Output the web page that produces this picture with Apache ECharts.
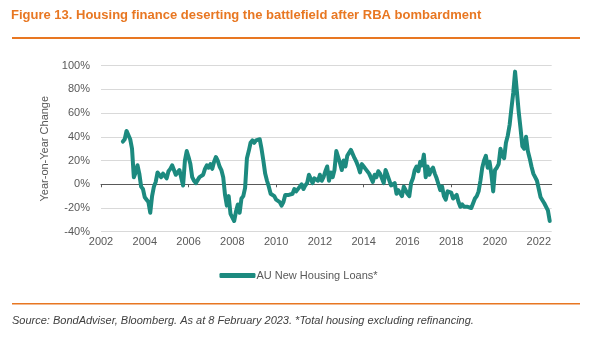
<!DOCTYPE html>
<html>
<head>
<meta charset="utf-8">
<script src="https://cdn.jsdelivr.net/npm/echarts@6/dist/echarts.min.js"></script>
<style>
html,body{margin:0;padding:0;background:#fff;}
#chart{width:597px;height:339px;}
</style>
</head>
<body>
<div id="chart"></div>
<script>
// Monthly year-on-year change (%), starting January 2003
const startYear = 2003;
const seriesName = 'AU New Housing Loans*';
const loans = [
  36, 38, 45, 44, 38, 30, 6, 10, 16, 9, -2, -4,
  -11, -13, -15, -24, -10, -2, 2, 10, 9, 6, 9, 8,
  5, 11, 13, 16, 15, 8, 7, 12, 11, -1, 20, 28,
  23, 17, 6, 3, 1, 1, 6, 7, 8, 13, 16, 14,
  17, 13, 19, 23, 20, 15, 12, 6, -9, -18, -10, -25,
  -25, -31, -23, -17, -24, -12, -10, -3, 22, 28, 35, 37,
  35, 37, 37, 38, 30, 20, 9, 3, -2, -8, -9, -10,
  -13, -14, -15, -18, -15, -9, -9, -9, -10, -8, -4, -6,
  -6, -2, 0, -4, -1, 1, 8, 7, 1, 5, 4, 3,
  8, 3, 6, 11, 15, 3, 10, 6, 12, 28, 28, 18,
  12, 20, 15, 24, 23, 29, 28, 22, 19, 15, 10, 17,
  15, 13, 14, 9, 10, 2, 8, 6, 11, 9, 9, 1,
  12, 8, 8, -1, -1, 1, -8, -5, -4, -10, -2, -3,
  -8, -10, 1, 5, 12, 15, 11, 19, 16, 25, 6, 15,
  8, 12, 14, 9, 5, 0, -5, -2, -10, -13, -6, -7,
  -7, -12, -13, -9, -15, -19, -17, -19, -19, -19, -19, -20,
  -21, -12, -10, -6, 3, 14, 20, 24, 14, 19, 9, -6,
  12, 14, 17, 30, 24, 22, 35, 41, 50, 64, 77, 95,
  78, 61, 47, 32, 30, 40, 28, 22, 15, 9, 6, 3,
  -4, -11, -12, -16, -17, -22, -31
];
const yearLabels = [2002, 2004, 2006, 2008, 2010, 2012, 2014, 2016, 2018, 2020, 2022];
const yearTicks = [2002, 2006, 2010, 2014, 2018, 2022];

const points = loans.map((v, i) => [startYear + i / 12, v]);

const chart = echarts.init(document.getElementById('chart'), null, {renderer: 'canvas'});
const gray = '#595959';
const orange = '#E87722';
const teal = '#1C8A7F';
const xMin = 2002, xMax = 2022.59;

chart.setOption({
  animation: false,
  backgroundColor: '#fff',
  textStyle: {fontFamily: 'Liberation Sans, Arial, sans-serif'},
  title: [{
    text: 'Figure 13. Housing finance deserting the battlefield after RBA bombardment',
    left: 11, top: 9, padding: 0,
    textStyle: {color: orange, fontSize: 13, fontWeight: 'bold', fontFamily: 'Liberation Sans, Arial, sans-serif'}
  }, {
    text: 'Source: BondAdviser, Bloomberg. As at 8 February 2023. *Total housing excluding refinancing.',
    left: 12, top: 315, padding: 0,
    textStyle: {color: '#404040', fontSize: 11, fontWeight: 'normal', fontStyle: 'italic', fontFamily: 'Liberation Sans, Arial, sans-serif'}
  }],
  graphic: [
    {type: 'rect', shape: {x: 12, y: 37, width: 568, height: 2}, style: {fill: orange}, silent: true},
    {type: 'rect', shape: {x: 12, y: 303, width: 568, height: 1.5}, style: {fill: orange}, silent: true}
  ],
  legend: {
    data: [seriesName],
    left: 'center', top: 265,
    icon: 'roundRect', itemWidth: 36, itemHeight: 5, itemGap: 10,
    textStyle: {color: gray, fontSize: 11, padding: [0, 0, 0, -4]}
  },
  grid: {left: 101, right: 45.3, top: 65.7, bottom: 107.3, containLabel: false},
  xAxis: [{
    type: 'value', min: xMin, max: xMax, position: 'bottom',
    axisLine: {show: false, onZero: false},
    axisTick: {show: false},
    splitLine: {show: false},
    axisLabel: {customValues: yearLabels, color: gray, fontSize: 11, margin: 5, formatter: v => String(v)}
  }, {
    type: 'value', min: xMin, max: xMax, position: 'bottom',
    axisLine: {show: true, onZero: true, lineStyle: {color: '#595959', width: 1}},
    axisTick: {show: true, customValues: yearTicks, length: 3, lineStyle: {color: '#595959'}},
    axisLabel: {show: false},
    splitLine: {show: false}
  }],
  yAxis: {
    type: 'value', min: -40, max: 100, interval: 20,
    name: 'Year-on-Year Change', nameLocation: 'middle', nameRotate: 90, nameGap: 39,
    nameTextStyle: {color: gray, fontSize: 11},
    axisLine: {show: false}, axisTick: {show: false},
    splitLine: {lineStyle: {color: '#D9D9D9', width: 1}},
    axisLabel: {color: gray, fontSize: 11, margin: 11, formatter: '{value}%'}
  },
  series: [{
    name: seriesName, type: 'line', xAxisIndex: 0, data: points,
    showSymbol: false, symbol: 'none',
    lineStyle: {color: teal, width: 4, join: 'round', cap: 'round'},
    itemStyle: {color: teal}
  }]
});
</script>
</body>
</html>
